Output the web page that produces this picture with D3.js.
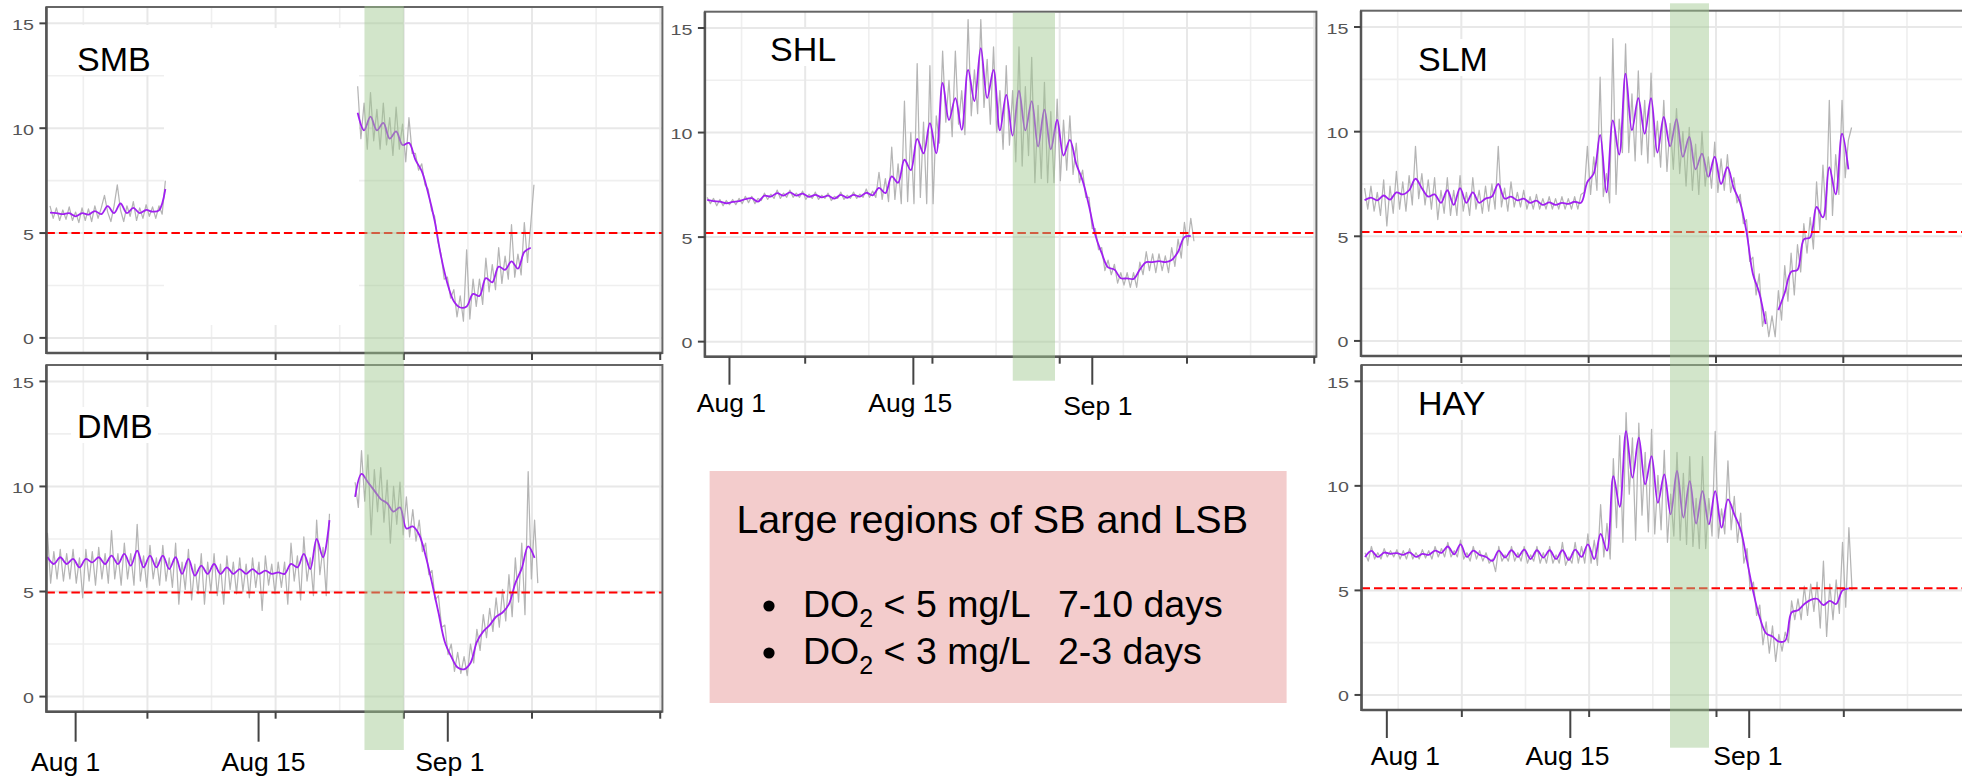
<!DOCTYPE html>
<html><head><meta charset="utf-8">
<script src="https://cdn.jsdelivr.net/npm/d3@7/dist/d3.min.js"></script>
<style>
html,body{margin:0;padding:0;background:#fff;}
svg{display:block;}
text{font-family:"Liberation Sans",Arial,Helvetica,sans-serif;}
</style></head><body>
<svg id="chart" width="1962" height="780"></svg>
<script>
// ---------------- data ----------------
const panelNames = ["SMB","DMB","SHL","SLM","HAY"];
const thresholds = [5.0, 4.95, 5.2, 5.2, 5.1];
const dayDomain = [2.12, 50.17];
const valueDomain = [-0.72, 15.78];
const yTickValues = [0, 5, 10, 15];
const yMinorValues = [2.5, 7.5, 12.5];
const dayMajor = [10, 20, 30, 40, 50];
const dayMinor = [5, 15, 25, 35, 45];
const dateTickLabels = ["Aug 1", "Aug 15", "Sep 1"];
const dateTickDaysDMB = [4.40, 18.67, 33.43];
const dateTickDaysSHL = [4.05, 18.50, 32.56];
const dateTickDaysHAY = [4.11, 18.52, 32.57];
const eventBandLeft = [26.93, 30.0];
const eventBandMiddle = [26.31, 29.63];
const eventBandRight = [26.39, 29.45];
const purpleStep = 0.5;
const grayStep = 0.25;

// segments: [startDay, values]
const purpleSMB = [
  [2.4, [5.97,5.95,5.9,5.95,5.8,5.95,5.88,6.05,5.9,6.28,5.95,6.41,5.95,6.2,5.95,6.1,6.02,6.08,7.1]],
  [26.4, [10.74,9.9,10.55,9.9,10.25,9.5,9.85,9.2,9.3,8.5,7.95,6.9,5.6,3.9,2.6,1.75,1.45,1.5,2.1,2.0,2.85,2.65,3.4,3.25,3.65,3.3,4.1,4.3]]
];
const graySMB = [
  [2.4, [6.3,5.7,6.2,5.6,6.1,5.65,6.25,5.6,6.0,5.5,6.2,5.6,6.15,5.55,6.3,5.7,6.2,6.8,6.0,5.55,6.3,7.3,6.1,5.55,6.3,5.8,6.5,5.6,6.2,5.7,6.35,5.8,6.25,5.7,6.3,5.9,7.5]],
  [26.4, [12.0,9.5,11.2,9.0,11.7,9.4,10.9,9.0,11.2,9.2,10.5,8.7,11.0,9.0,10.2,8.4,10.5,8.8,8.8,8.0,8.3,7.3,7.1,6.1,5.8,4.6,4.0,2.8,2.9,1.9,2.3,1.0,2.0,0.8,4.2,0.9,2.8,1.5,2.8,1.6,3.8,2.2,3.5,2.3,4.3,2.6,3.9,2.8,5.4,2.9,4.0,3.0,5.5,3.6,5.4,7.3]]
];
const purpleDMB = [
  [2.2, [6.64,6.31,6.63,6.31,6.55,6.15,6.55,6.39,6.63,6.31,6.71,6.31,6.79,6.23,6.95,6.15,6.71,6.15,6.71,6.07,6.63,5.84,6.55,5.76,6.23,5.84,6.31,5.84,6.15,5.84,6.07,5.84,6.07,5.84,5.99,5.84,5.91,5.84,6.31,6.15,6.79,6.07,7.50,6.63,8.4]],
  [26.2, [9.5,10.6,10.2,9.8,9.4,9.2,8.8,9.0,8.0,8.1,7.7,6.7,5.4,4.0,2.6,1.9,1.38,1.3,1.6,2.6,3.1,3.4,3.8,4.0,4.4,5.4,6.1,7.15,6.6]]
];
const grayDMB = [
  [2.2, [7.8,5.4,6.9,5.6,7.0,5.5,6.8,5.6,7.0,5.4,6.6,4.7,7.0,5.5,6.9,5.3,7.1,5.6,6.8,5.4,7.9,5.6,6.8,5.3,7.3,5.6,6.8,5.3,8.2,5.5,6.7,5.2,7.2,5.6,6.6,5.3,7.2,5.5,6.6,5.2,7.3,4.4,6.4,5.1,7.0,4.6,6.3,4.9,6.8,4.4,6.4,5.0,6.8,4.8,6.3,4.4,6.7,5.1,6.4,4.9,6.6,5.0,6.3,4.7,6.6,5.2,6.4,4.1,6.7,5.3,6.3,4.9,6.4,5.2,6.4,4.4,7.3,5.5,6.7,4.6,7.6,5.5,6.6,4.8,8.4,5.8,7.1,4.8,8.7]],
  [26.2, [10.2,9.0,11.7,9.3,11.5,7.7,10.8,8.8,10.9,8.3,10.3,7.3,10.0,8.2,10.2,7.7,9.5,7.6,8.9,7.4,8.4,6.9,7.3,5.8,6.0,4.6,4.8,3.3,3.4,2.0,2.5,1.2,2.1,1.1,1.9,1.0,2.5,1.6,3.2,2.2,3.9,2.8,4.2,3.1,4.7,3.3,5.1,3.6,5.8,3.8,6.6,4.5,7.3,3.9,10.7,5.6,8.4,5.4]]
];
const purpleSHL = [
  [2.3, [6.78,6.72,6.70,6.62,6.68,6.72,6.82,6.86,6.70,6.98,6.94,7.10,6.98,7.14,6.98,7.08,6.92,7.02,6.90,6.98,6.84,7.02,6.88,7.02,6.94,7.12,7.00,7.35,7.1,7.9,7.6,8.7,8.2,9.7,9.0,10.45,9.0,12.37,10.6,11.65,10.13,13.0,11.5,14.04,11.65,13.0,10.1,11.8,9.85,12.0,10.1,11.5,9.33,11.1,9.2,10.6,8.9,9.65,8.5,7.7,6.5,5.1,4.23,3.55,3.45,3.03,3.03,3.0,3.45,3.8,3.8,3.85,3.8,3.9,4.3,5.0,5.05]]
];
const graySHL = [
  [2.3, [6.9,6.6,6.85,6.5,6.8,6.5,6.75,6.55,6.8,6.55,6.85,6.6,6.95,6.65,6.95,6.6,6.85,6.75,7.1,6.8,7.05,6.85,7.25,6.85,7.1,6.9,7.25,6.9,7.1,6.9,7.2,6.8,7.05,6.85,7.15,6.8,7.0,6.85,7.1,6.75,6.95,6.85,7.15,6.8,7.0,6.85,7.15,6.85,7.05,6.9,7.3,6.9,7.2,
    6.9,8.1,6.8,7.8,6.7,9.3,6.8,8.5,6.6,11.5,6.7,10.0,6.6,13.3,6.9,10.5,6.6,13.2,6.6,10.8,9.5,13.9,10.5,12.5,9.8,13.9,10.4,12.0,9.9,15.4,10.8,13.0,10.9,15.4,11.2,13.5,10.4,14.1,10.0,12.0,9.2,13.2,9.4,12.0,8.6,14.1,8.4,12.2,8.9,13.6,7.6,11.3,7.8,12.4,7.6,11.0,7.6,11.6,7.7,10.6,8.2,10.8,8.0,9.5,
    7.6,8.2,6.9,6.9,5.4,5.4,4.4,4.5,3.4,3.9,3.2,3.7,2.8,3.3,2.7,3.3,2.6,3.3,2.6,3.8,3.2,4.3,3.4,4.2,3.3,4.2,3.4,4.1,3.3,4.5,3.6,4.9,4.0,5.7,4.6,5.9,4.8]]
];
const purpleSLM = [
  [2.4, [6.72,6.85,6.72,6.95,6.75,7.1,7.0,7.2,7.75,7.3,6.9,7.0,6.6,7.2,6.5,7.3,6.6,7.1,6.6,6.8,6.9,7.5,6.8,6.9,6.72,6.8,6.6,6.7,6.5,6.62,6.5,6.6,6.55,6.65,6.6,7.6,8.0,9.85,7.1,10.54,8.9,12.77,10.07,11.6,9.9,11.6,9.0,10.7,9.3,10.6,8.8,9.75,8.2,8.95,7.84,8.8,7.5,8.3,7.3,6.6,5.2,3.2,2.3,0.8,null,1.47,2.3,3.3,3.4,4.85,4.95,6.4,5.9,8.3,7.0,9.9,8.2]]
];
const graySLM = [
  [2.4, [7.3,6.3,7.4,6.2,7.1,6.0,7.7,5.5,7.4,6.1,8.1,6.3,7.6,6.2,7.9,6.5,9.3,6.8,8.0,6.5,7.7,6.3,7.8,5.8,7.2,6.1,7.8,6.0,7.2,6.0,7.9,6.2,7.1,6.0,7.8,6.3,7.2,6.1,7.4,6.2,7.5,6.3,9.3,6.4,7.3,6.2,7.6,6.4,7.1,6.4,7.2,6.3,6.9,6.3,7.0,6.3,6.8,6.3,6.9,6.3,6.8,6.3,6.9,6.3,6.8,6.3,6.9,6.3,7.0,
    7.1,9.3,7.0,8.8,7.2,12.6,6.9,8.0,6.6,14.45,7.0,10.6,9.0,14.2,9.0,11.8,8.6,12.9,8.9,11.5,8.5,12.8,8.8,10.5,8.3,11.5,8.1,10.4,8.2,11.1,8.0,10.0,7.4,10.2,7.2,9.4,7.0,10.0,7.4,8.8,7.3,9.5,7.1,8.7,7.2,8.9,7.1,7.8,
    6.6,7.0,5.6,5.8,3.8,4.0,2.2,3.2,0.7,1.4,0.2,1.2,0.2,2.4,1.0,3.6,1.9,4.2,2.2,4.6,3.3,5.6,4.2,5.9,4.4,7.6,5.3,8.4,5.8,11.5,6.0,8.9,7.0,11.5,7.8,9.6,10.2]]
];
const purpleHAY = [
  [2.4, [6.6,6.89,6.6,6.81,6.75,6.78,6.7,6.82,6.6,6.75,6.7,6.9,6.8,7.1,6.73,7.2,6.6,6.9,6.7,6.6,6.41,6.9,6.57,6.92,6.6,6.95,6.5,6.92,6.57,6.92,6.5,6.92,6.45,6.95,6.6,7.2,6.5,7.7,6.9,10.47,9.0,12.62,10.39,12.30,10.07,11.42,9.19,10.55,8.64,10.71,8.48,10.23,8.2,9.75,8.16,9.75,8.0,9.35,8.64,7.9,6.41,4.9,3.7,2.95,2.8,2.55,2.6,3.95,4.05,4.35,4.55,4.6,4.3,4.5,4.35,5.0,5.1]]
];
const grayHAY = [
  [2.4, [6.8,6.4,7.1,6.5,6.8,6.5,7.0,6.6,6.9,6.6,6.95,6.5,6.9,6.5,7.0,6.5,6.8,6.5,6.95,6.55,6.9,6.5,7.1,6.6,7.0,6.6,7.3,6.6,6.9,6.6,7.4,6.5,6.8,6.4,7.1,6.5,6.9,6.4,6.8,6.3,6.5,5.9,7.1,6.4,6.7,6.4,7.1,6.4,6.8,6.4,7.1,6.3,6.7,6.4,7.1,6.3,6.8,6.3,7.1,6.3,6.7,6.3,7.3,6.2,6.6,6.3,7.3,6.3,7.1,
    6.3,7.7,6.3,7.4,6.2,9.1,6.6,8.2,6.5,11.3,8.0,12.4,7.3,13.5,9.6,12.3,7.4,13.0,8.6,11.6,7.8,12.7,7.7,10.5,7.9,11.7,7.3,9.6,7.6,11.6,7.4,10.6,7.2,11.4,7.1,9.4,7.0,11.4,7.0,9.4,7.6,12.6,7.5,8.9,7.7,11.2,7.9,9.5,
    7.3,8.7,6.3,7.0,5.0,5.4,3.8,4.3,2.4,3.5,2.0,3.3,1.6,2.9,2.1,3.0,2.5,4.5,3.6,4.6,3.6,5.2,3.8,5.3,4.0,5.4,3.2,6.4,2.8,5.3,3.6,5.5,3.9,7.3,4.2,8.0,5.0]]
];
const noteTitle = "Large regions of SB and LSB";
const noteItems = [["5", "7-10 days"], ["3", "2-3 days"]];

// ---------------- layout ----------------
const purpleByPanel = [purpleSMB, purpleDMB, purpleSHL, purpleSLM, purpleHAY];
const grayByPanel = [graySMB, grayDMB, graySHL, graySLM, grayHAY];
const frames = [
  {x0:46.4, x1:662.4, y0:7, y1:353, lab:[77,71], box:[48,25,164,75], mask:[164,28,359,325]},
  {x0:46.4, x1:662.4, y0:365, y1:711.7, lab:[77,438], box:[71,407,158,443]},
  {x0:704.9, x1:1316.4, y0:11.7, y1:356.7, lab:[770,61], box:[764,29,845,66]},
  {x0:1361, x1:1972.8, y0:10.7, y1:356, lab:[1418,71], box:[1412,39,1495,76]},
  {x0:1361.5, x1:1973.3, y0:365, y1:710, lab:[1418,415], box:[1412,384,1495,420]}
];

const svg = d3.select("#chart");
const defs = svg.append("defs");
const xs = [], ys = [];

frames.forEach((f, i) => {
  const x = d3.scaleLinear().domain(dayDomain).range([f.x0, f.x1]);
  const y = d3.scaleLinear().domain(valueDomain).range([f.y1, f.y0]);
  xs.push(x); ys.push(y);
  const g = svg.append("g");
  defs.append("clipPath").attr("id", "clip" + i)
    .append("rect").attr("x", f.x0).attr("y", f.y0).attr("width", f.x1 - f.x0).attr("height", f.y1 - f.y0);
  g.append("rect").attr("x", f.x0).attr("y", f.y0).attr("width", f.x1 - f.x0).attr("height", f.y1 - f.y0).attr("fill", "#fff");
  const grid = g.append("g");
  grid.selectAll(".vmin").data(dayMinor).join("line")
    .attr("x1", d => x(d)).attr("x2", d => x(d)).attr("y1", f.y0).attr("y2", f.y1)
    .attr("stroke", "#efefef").attr("stroke-width", 1.6);
  grid.selectAll(".hmin").data(yMinorValues).join("line")
    .attr("x1", f.x0).attr("x2", f.x1).attr("y1", d => y(d)).attr("y2", d => y(d))
    .attr("stroke", "#efefef").attr("stroke-width", 1.6);
  grid.selectAll(".vmaj").data(dayMajor).join("line")
    .attr("x1", d => x(d)).attr("x2", d => x(d)).attr("y1", f.y0).attr("y2", f.y1)
    .attr("stroke", "#e8e8e8").attr("stroke-width", 2);
  grid.selectAll(".hmaj").data(yTickValues).join("line")
    .attr("x1", f.x0).attr("x2", f.x1).attr("y1", d => y(d)).attr("y2", d => y(d))
    .attr("stroke", "#e8e8e8").attr("stroke-width", 2);
  g.append("rect").attr("x", f.box[0]).attr("y", f.box[1]).attr("width", f.box[2] - f.box[0]).attr("height", f.box[3] - f.box[1]).attr("fill", "#fff");
  if (f.mask) g.append("rect").attr("x", f.mask[0]).attr("y", f.mask[1]).attr("width", f.mask[2] - f.mask[0]).attr("height", f.mask[3] - f.mask[1]).attr("fill", "#fff");

  const toPts = (segs, step) => segs.map(([s, vals]) => vals.map((v, k) => ({d: s + k * step, v})));
  const line = d3.line().defined(p => p.v !== null).x(p => x(p.d)).y(p => y(p.v));
  const lg = g.append("g").attr("clip-path", `url(#clip${i})`);
  lg.selectAll(".gray").data(toPts(grayByPanel[i], grayStep)).join("path")
    .attr("d", line.curve(d3.curveLinear)).attr("fill", "none")
    .attr("stroke", "#b5b5b5").attr("stroke-width", 1.25).attr("stroke-linejoin", "round");
  const pline = d3.line().defined(p => p.v !== null).x(p => x(p.d)).y(p => y(p.v)).curve(d3.curveCatmullRom.alpha(0.5));
  lg.selectAll(".purple").data(toPts(purpleByPanel[i], purpleStep)).join("path")
    .attr("d", pline).attr("fill", "none")
    .attr("stroke", "#a020f0").attr("stroke-width", 1.8).attr("stroke-linejoin", "round");
  lg.append("line").attr("x1", f.x0).attr("x2", f.x1)
    .attr("y1", y(thresholds[i])).attr("y2", y(thresholds[i]))
    .attr("stroke", "#ff0000").attr("stroke-width", 2).attr("stroke-dasharray", "8.5,4");

  g.append("rect").attr("x", f.x0).attr("y", f.y0).attr("width", f.x1 - f.x0).attr("height", f.y1 - f.y0)
    .attr("fill", "none").attr("stroke", "#666").attr("stroke-width", 2);
  g.append("line").attr("x1", f.x0).attr("x2", f.x0).attr("y1", f.y0).attr("y2", f.y1 + 1)
    .attr("stroke", "#555").attr("stroke-width", 2.5);
  g.append("line").attr("x1", f.x0).attr("x2", f.x1).attr("y1", f.y1).attr("y2", f.y1)
    .attr("stroke", "#555").attr("stroke-width", 2.5);
  g.selectAll(".yt").data(yTickValues).join("line")
    .attr("x1", f.x0 - 7).attr("x2", f.x0).attr("y1", d => y(d)).attr("y2", d => y(d))
    .attr("stroke", "#444").attr("stroke-width", 2);
  g.selectAll(".yl").data(yTickValues).join("text")
    .attr("transform", d => `translate(${f.x0 - 12.5},${y(d) + 6.5}) scale(1.27,1)`)
    .attr("text-anchor", "end").attr("font-size", 15.5).attr("fill", "#555")
    .text(d => d);
  g.selectAll(".xt").data(dayMajor.filter(d => x(d) < f.x1 - 1)).join("line")
    .attr("x1", d => x(d)).attr("x2", d => x(d)).attr("y1", f.y1).attr("y2", f.y1 + 7)
    .attr("stroke", "#444").attr("stroke-width", 2);
  g.append("text").attr("x", f.lab[0]).attr("y", f.lab[1]).attr("font-size", 34).attr("fill", "#000").text(panelNames[i]);
});

// pasted date axes
function dateAxis(pi, days, tickLen, labelDy, dxs, dys) {
  const f = frames[pi], x = xs[pi];
  const g = svg.append("g");
  g.selectAll("line").data(days).join("line")
    .attr("x1", d => x(d)).attr("x2", d => x(d)).attr("y1", f.y1).attr("y2", f.y1 + tickLen)
    .attr("stroke", "#444").attr("stroke-width", 2);
  g.selectAll("text").data(days).join("text")
    .attr("x", (d, k) => x(d) + dxs[k]).attr("y", (d, k) => f.y1 + labelDy + dys[k])
    .attr("text-anchor", "middle").attr("font-size", 26.5).attr("fill", "#000")
    .text((d, k) => dateTickLabels[k]);
}
dateAxis(1, dateTickDaysDMB, 30, 59, [-10, 5, 2], [0, 0, 0]);
dateAxis(2, dateTickDaysSHL, 28, 55, [2, -3, 5.5], [0, 0, 3]);
dateAxis(4, dateTickDaysHAY, 28, 55, [18.6, -2.8, -1.3], [0, 0, 0]);

// event bands (drawn over panels)
const bandFill = "#9fc78e", bandOpacity = 0.47;
[[0, eventBandLeft, 6, 750], [2, eventBandMiddle, 12.7, 380.7], [3, eventBandRight, 3.3, 747.7]].forEach(([pi, b, yt, yb]) => {
  const x = xs[pi];
  svg.append("rect").attr("x", x(b[0])).attr("y", yt).attr("width", x(b[1]) - x(b[0])).attr("height", yb - yt)
    .attr("fill", bandFill).attr("opacity", bandOpacity);
});

// note box
const nb = svg.append("g");
nb.append("rect").attr("x", 709.6).attr("y", 471).attr("width", 577).attr("height", 232).attr("fill", "#f3cccc");
nb.append("text").attr("x", 736.4).attr("y", 533).attr("font-size", 39.5).attr("fill", "#000").text(noteTitle);
noteItems.forEach((it, k) => {
  const by = [617, 664][k];
  nb.append("circle").attr("cx", 769).attr("cy", by - 11).attr("r", 5.6).attr("fill", "#000");
  const t = nb.append("text").attr("x", 803).attr("y", by).attr("font-size", 37.5).attr("fill", "#000");
  t.append("tspan").text("DO");
  t.append("tspan").attr("font-size", 25).attr("dy", 10).text("2");
  t.append("tspan").attr("dy", -10).text(" < " + it[0] + " mg/L");
  nb.append("text").attr("x", 1058).attr("y", by).attr("font-size", 37.5).attr("fill", "#000").text(it[1]);
});
</script>
</body></html>
